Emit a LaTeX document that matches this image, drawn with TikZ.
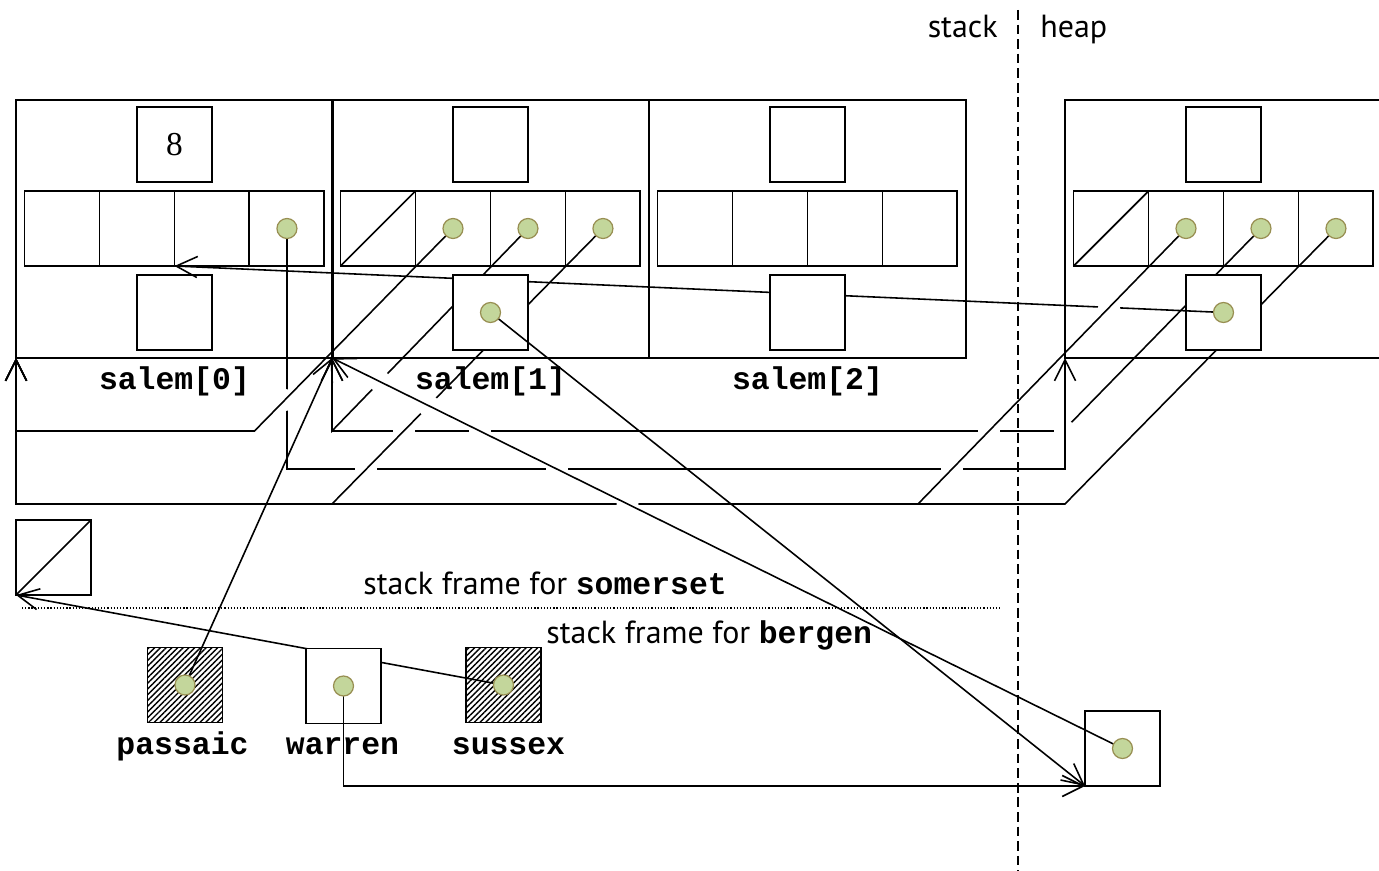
\documentclass[tikz,border=0pt]{standalone}
\usepackage{fontspec}
\setmainfont{Liberation Serif}
\setsansfont{PT Sans}
\setmonofont{Liberation Mono}
\usetikzlibrary{arrows.meta}
\usetikzlibrary{patterns.meta}
\usetikzlibrary{positioning}
\definecolor{dotfill}{RGB}{195,214,155}
\definecolor{dotline}{RGB}{152,143,82}

\begin{document}
\begin{tikzpicture}[x=0.02cm, y=-0.02cm,
        frame/.style={draw, line width=1pt, minimum width=6.34cm, minimum height=5.16cm, inner sep=0pt, outer sep=0pt},
        box/.style={draw, line width=1.1pt, minimum size=1.5cm, inner sep=0pt, outer sep=0pt},
        wbox/.style={box, fill=white},
        hatchbox/.style={box, pattern={Lines[angle=45, distance=2.3pt, line width=0.8pt]}},
        dot/.style={circle, fill=dotfill, draw=dotline, line width=0.7pt, minimum size=0.4cm, inner sep=0pt},
        link/.style={line width=0.9pt},
        ptr/.style={line width=0.9pt, -{Straight Barb[length=12pt,width=12pt]}},
        lbl/.style={font=\ttfamily\bfseries\fontsize{17.9pt}{20pt}\selectfont, anchor=base, inner sep=0pt},
        txt/.style={font=\sffamily\fontsize{18.2pt}{21pt}\selectfont, inner sep=0pt}]
    \useasboundingbox (0,0) rectangle (1379,871);

    % structs: salem[0..2] on the stack, one on the heap
    \node [frame] (s0) at (174.5,229) {};
    \node [frame] (s1) at (490.5,229) {};
    \node [frame] (s2) at (807.5,229) {};
    \node [frame] (hp) at (1223.5,229) {};

    \node [box] (s0t) at (174.5,144.5) {\fontsize{19pt}{22pt}\selectfont 8};
    \node [box] (s1t) at (490.5,144.5) {};
    \node [box] (s2t) at (807.5,144.5) {};
    \node [box] (ht) at (1223.5,144.5) {};

    \node [box] (s0c1) at (62,228.5) {};
    \node [box] (s0c2) [right=0pt of s0c1] {};
    \node [box] (s0c3) [right=0pt of s0c2] {};
    \node [box] (s0c4) [right=0pt of s0c3] {};
    \node [box] (s1c1) at (378,228.5) {};
    \node [box] (s1c2) [right=0pt of s1c1] {};
    \node [box] (s1c3) [right=0pt of s1c2] {};
    \node [box] (s1c4) [right=0pt of s1c3] {};
    \node [box] (s2c1) at (695,228.5) {};
    \node [box] (s2c2) [right=0pt of s2c1] {};
    \node [box] (s2c3) [right=0pt of s2c2] {};
    \node [box] (s2c4) [right=0pt of s2c3] {};
    \node [box] (hc1) at (1111,228.5) {};
    \node [box] (hc2) [right=0pt of hc1] {};
    \node [box] (hc3) [right=0pt of hc2] {};
    \node [box] (hc4) [right=0pt of hc3] {};
    \draw [line width=1pt] (s1c1.south west) -- (s1c1.north east);
    \draw [line width=1pt] (hc1.south west) -- (hc1.north east);

    \node [wbox] (s0b) at (174.5,312.5) {};

    % frame for bergen
    \node [box] (nul) at (53.5,557.5) {};
    \draw [line width=1pt] (nul.south west) -- (nul.north east);
    \node [hatchbox] (pa) at (185,685) {};
    \node [hatchbox] (su) at (503.5,685) {};
    \node [box] (ho) at (1122.5,748.5) {};

    % pointers, with gaps where a later one jumps over
    \draw [ptr] (hc3.center) -- ++(-198,202.5) -| (s1.south west);
    \draw [ptr] (s1c3.center) -- ++(-196,202.5) -- (s1.south west);
    \fill [white] (1065,431) circle (0.22cm);
    \draw [ptr] (s0c4.center) -- ++(0,240.5) -| (hp.south west);
    \fill [white] (285.5,400) circle (0.22cm);
    \draw [ptr] (s1c2.center) -- ++(-198.5,202.5) -| (s0.south west);
    \fill [white] (404,431) circle (0.22cm);
    \fill [white] (366,469) circle (0.22cm);
    \draw [ptr] (s1c4.center) -- ++(-271,275.5) -| (s0.south west);
    \draw [ptr] (hc4.center) -- ++(-271,275.5) -| (s0.south west);

    \node [wbox] (hb) at (1223.5,312.5) {};
    \draw [ptr] (hb.center) -- (s0c2.south east);
    \node [wbox] (s1b) at (490.5,312.5) {};
    \node [wbox] (s2b) at (807.5,312.5) {};

    \fill [white] (989,431) circle (0.22cm);
    \fill [white] (952,469) circle (0.22cm);
    \fill [white] (1109,307.5) circle (0.22cm);
    \draw [ptr] (hc2.center) -- ++(-268,275.5) -| (s0.south west);

    \fill [white] (480,431) circle (0.22cm);
    \fill [white] (557,469) circle (0.22cm);
    \fill [white] (627.5,504) circle (0.22cm);
    \fill [white] (380,381.6) circle (0.22cm);
    \fill [white] (428.6,405.8) circle (0.22cm);
    \draw [ptr] (ho.center) -- (s1.south west);

    \draw [ptr] (s1b.center) -- (ho.south west);
    \draw [ptr] (pa.center) -- (s1.south west);
    \draw [ptr] (su.center) -- (nul.south west);
    \node [wbox] (wa) at (343.5,686) {};
    \draw [ptr] (wa.center) |- (ho.south west);

    \node [dot] at (s0c4) {};
    \node [dot] at (s1c2) {};
    \node [dot] at (s1c3) {};
    \node [dot] at (s1c4) {};
    \node [dot] at (s1b) {};
    \node [dot] at (hc2) {};
    \node [dot] at (hc3) {};
    \node [dot] at (hc4) {};
    \node [dot] at (hb) {};
    \node [dot] at (pa) {};
    \node [dot] at (wa) {};
    \node [dot] at (su) {};
    \node [dot] at (ho) {};

    % names
    \node [lbl] at ([yshift=-0.64cm]s0.south) {salem[0]};
    \node [lbl] at ([yshift=-0.64cm]s1.south) {salem[1]};
    \node [lbl] at ([yshift=-0.64cm]s2.south) {salem[2]};
    \node [lbl] at (182.5,754) {passaic};
    \node [lbl] at (342.5,754) {warren};
    \node [lbl] at (508.5,754) {sussex};

    % stack / heap and the frames
    \draw [line width=0.8pt, dash pattern=on 5.5pt off 2.8pt] (1018,10) -- (1018,871);
    \node [txt, anchor=base east] at (998,38) {stack};
    \node [txt, anchor=base west] at (1040,38) {heap};
    \draw [line width=0.6pt, dash pattern=on 0.7pt off 1.1pt] (22,608) -- (1000,608);
    \node [txt, anchor=base west] at (363,594) {stack frame for {\ttfamily\bfseries\fontsize{17.9pt}{20pt}\selectfont somerset}};
    \node [txt, anchor=base west] at (546,643) {stack frame for {\ttfamily\bfseries\fontsize{17.9pt}{20pt}\selectfont bergen}};
\end{tikzpicture}
\end{document}
